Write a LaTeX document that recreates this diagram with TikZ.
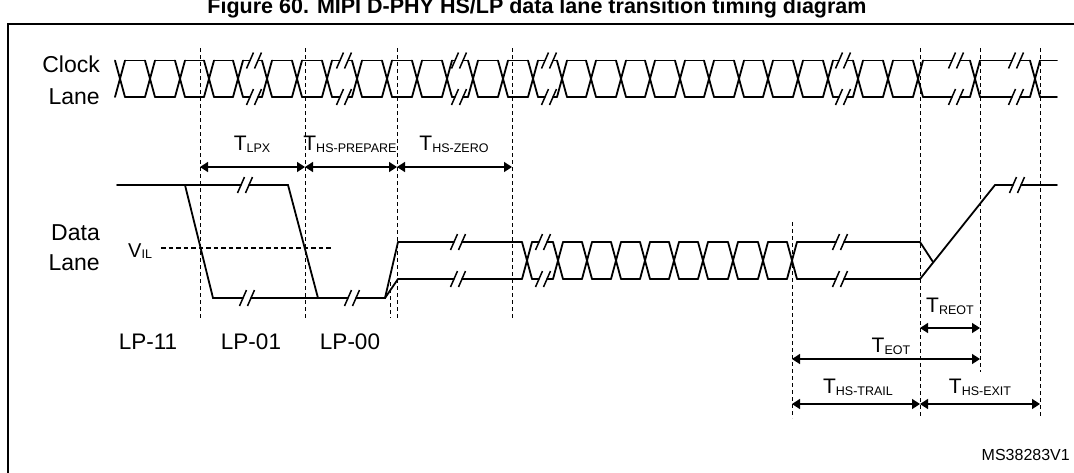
\documentclass[tikz,border=0pt]{standalone}
\usepackage{fontspec}
\setmainfont{Liberation Sans}
\usetikzlibrary{arrows.meta}
\newcommand\Tsub[1]{T\raisebox{-2pt}{\fontsize{12.5}{12.5}\selectfont #1}}
\newcommand\brkmark[2]{%
  \draw[markline] ({#1-7.5},{#2+8}) -- ({#1-0.5},{#2-8});
  \draw[markline] ({#1+0.5},{#2+8}) -- ({#1+7.5},{#2-8});}
\newcommand\buseyes[3]{%
  \foreach \a/\b/\k in {#3}{%
    \ifnum\k=0
      \draw[sig] ({\a+5},#1) -- ({\b-5},#1);
      \draw[sig] ({\a+5},#2) -- ({\b-5},#2);
    \else
      \draw[sig] ({\a+5},#1) -- ({\k-4},#1);
      \draw[sig] ({\k+4},#1) -- ({\b-5},#1);
      \draw[sig] ({\a+5},#2) -- ({\k-4},#2);
      \draw[sig] ({\k+4},#2) -- ({\b-5},#2);
      \brkmark{\k}{#1}\brkmark{\k}{#2}
    \fi}}
\newcommand\buscross[3]{%
  \foreach \c in {#3}{%
    \draw[sig] ({\c-5},#1) -- ({\c+5},#2);
    \draw[sig] ({\c-5},#2) -- ({\c+5},#1);}}
\begin{document}
\begin{tikzpicture}[x=1pt,y=-1pt,
  sig/.style={line width=1.8pt, line cap=round, line join=miter},
  markline/.style={line width=1.5pt},
  guide/.style={line width=0.9pt, dash pattern=on 4pt off 3pt},
  vil/.style={line width=1.3pt, dash pattern=on 4.5pt off 3pt},
  dim/.style={line width=1.5pt, {Triangle[length=8pt,width=10pt]}-{Triangle[length=8pt,width=10pt]}},
  lbl/.style={font=\fontsize{23}{25}\selectfont, inner sep=0pt},
  st/.style={font=\fontsize{22.5}{25}\selectfont, inner sep=0pt, anchor=base},
  tl/.style={font=\fontsize{21}{24}\selectfont, inner sep=0pt, anchor=base}]
\useasboundingbox (0,0) rectangle (1074,472);
\clip (0,0) rectangle (1074,472);
% frame and title
\draw[line width=2pt] (8,24) rectangle (1090,490);
\node[font=\bfseries\fontsize{21.5}{24}\selectfont, inner sep=0pt, anchor=base] (title) at (537,13)
  {Figure 60. MIPI D-PHY HS/LP data lane transition timing diagram};
% lane labels
\node[lbl, anchor=base east] (clk1) at (100,72) {Clock};
\node[lbl, anchor=base east] (clk2) at (100,104) {Lane};
\node[lbl, anchor=base east] (dat1) at (100,240) {Data};
\node[lbl, anchor=base east] (dat2) at (100,270) {Lane};
% guide lines
\foreach \x/\ya/\yb in {200/48/318, 305/48/318, 397/48/318, 390/282/318, 512/48/318,
  792/222/418, 920/48/418, 980/48/372, 1040/48/418}
  \draw[guide] (\x,\ya) -- (\x,\yb);
% clock lane
\buscross{60.5}{97}{120,150,180,209,238,267,297,327,357,387,417,447,473,503,533,562,591,621,650,680,709,739,768,798,828,858,888,918,975,1035}
\buseyes{60.5}{97}{120/150/0,150/180/0,180/209/0,209/238/0,238/267/254,267/297/0,297/327/0,327/357/344,
  357/387/0,387/417/0,417/447/0,447/473/459,473/503/0,503/533/0,533/562/549,562/591/0,591/621/0,
  621/650/0,650/680/0,680/709/0,709/739/0,739/768/0,768/798/0,798/828/0,828/858/843,858/888/0,
  888/918/0,918/975/956,975/1035/1016,1035/1062/0}
% data lane, LP part
\draw[sig] (117,185) -- (185,185) -- (213,298) -- (243,298);
\draw[sig] (251,298) -- (348,298);
\draw[sig] (356,298) -- (385,298) -- (398,242);
\draw[sig] (385,298) -- (398,279);
\draw[sig] (185,185) -- (241,185);
\draw[sig] (249,185) -- (288,185) -- (318,298);
\brkmark{245}{185}
\brkmark{247}{298}
\brkmark{352}{298}
% V_IL
\node[inner sep=0pt, anchor=base west, font=\fontsize{20}{22}\selectfont] (vil) at (128,257)
  {V\raisebox{-1pt}{\fontsize{12.5}{12.5}\selectfont IL}};
\draw[vil] (161,248) -- (333,248);
% data lane, HS part
\buscross{242}{279}{527,558,587,616,645,674,703,733,763,792}
\buseyes{242}{279}{393/527/458,527/558/543,558/587/0,587/616/0,616/645/0,645/674/0,674/703/0,
  703/733/0,733/763/0,763/792/0,792/925/840}
% data lane, end of transmission
\draw[sig] (920,242) -- (933,262);
\draw[sig] (920,279) -- (995,185) -- (1013,185);
\draw[sig] (1021,185) -- (1057,185);
\brkmark{1017}{185}
% state labels
\node[st] (lp11) at (148,349) {LP-11};
\node[st] (lp01) at (251,349) {LP-01};
\node[st] (lp00) at (350,349) {LP-00};
% timing labels
\node[tl] (tlpx) at (252,150) {\Tsub{LPX}};
\node[tl] (tprep) at (350,150) {\Tsub{HS-PREPARE}};
\node[tl] (tzero) at (454,150) {\Tsub{HS-ZERO}};
\node[tl] (treot) at (950,312) {\Tsub{REOT}};
\node[tl] (teot) at (891,352) {\Tsub{EOT}};
\node[tl] (ttrail) at (858,393) {\Tsub{HS-TRAIL}};
\node[tl] (texit) at (980,393) {\Tsub{HS-EXIT}};
% dimension arrows
\coordinate (a1) at (200,167);
\coordinate (a2) at (305,167);
\coordinate (a3) at (397,167);
\coordinate (a4) at (512,167);
\coordinate (r1) at (920,328);
\coordinate (r2) at (980,328);
\coordinate (e1) at (792,359);
\coordinate (e2) at (980,359);
\coordinate (h1) at (792,404);
\coordinate (h2) at (920,404);
\coordinate (h3) at (1040,404);
\draw[dim] (a1) -- (a2);
\draw[dim] (a2) -- (a3);
\draw[dim] (a3) -- (a4);
\draw[dim] (r1) -- (r2);
\draw[dim] (e1) -- (e2);
\draw[dim] (h1) -- (h2);
\draw[dim] (h2) -- (h3);
% reference number
\node[inner sep=0pt, anchor=base east, font=\fontsize{16}{18}\selectfont] (ref) at (1070,460) {MS38283V1};
\end{tikzpicture}
\end{document}
